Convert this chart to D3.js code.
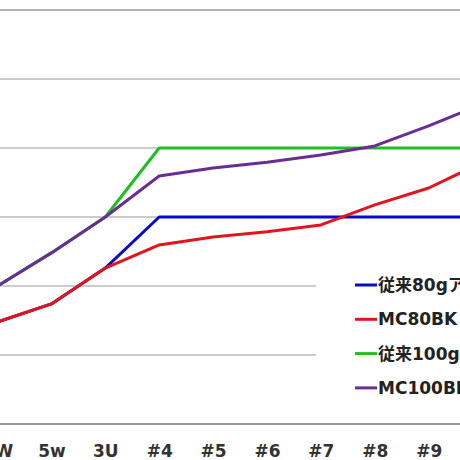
<!DOCTYPE html>
<html>
<head>
<meta charset="utf-8">
<script src="https://cdn.jsdelivr.net/npm/d3@7"></script>
<style>
  body { margin: 0; background: #fff; }
  svg { display: block; }
</style>
</head>
<body>
<div id="chart"></div>
<script>
// categories along the bottom (first and last are cut by the frame)
const categories = ["4W", "5w", "3U", "#4", "#5", "#6", "#7", "#8", "#9", "#10"];

// series values (grid step = 20)
const blue80 = [29.6, 34.8, 45.2, 60, 60, 60, 60, 60, 60, 60];
const mc80 = [29.6, 34.8, 45.2, 51.9, 54.2, 55.7, 57.7, 63.5, 68.4, 75.9];
const green100 = [40, 49.6, 60, 80, 80, 80, 80, 80, 80, 80];
const mc100 = [40, 49.6, 60, 71.9, 74.2, 75.9, 78.0, 80.6, 86.4, 92.8];

const seriesNames = ["従来80gアート", "MC80BK", "従来100gアート", "MC100BK"];
const yTicks = [20, 40, 60, 80, 100, 120];

const seriesList = [
  { name: seriesNames[0], values: blue80, color: "#0a0ac8" },
  { name: seriesNames[1], values: mc80, color: "#e2141c" },
  { name: seriesNames[2], values: green100, color: "#1fbf1f" },
  { name: seriesNames[3], values: mc100, color: "#6a2d92" }
];

const width = 460, height = 460;

const svg = d3.select("#chart").append("svg")
  .attr("width", width)
  .attr("height", height);

const x = d3.scalePoint()
  .domain(categories)
  .range([-2.5, 482.6]);

const y = d3.scaleLinear()
  .domain([0, 120])
  .range([424, 10]);

// gridlines
svg.append("g")
  .selectAll("line")
  .data(yTicks)
  .join("line")
  .attr("x1", 0)
  .attr("x2", width)
  .attr("y1", d => y(d))
  .attr("y2", d => y(d))
  .attr("stroke", d => d === 120 ? "#b4b4b4" : "#cccccc")
  .attr("stroke-width", 2);

// category axis
const xAxis = svg.append("g")
  .attr("transform", `translate(0,${y(0)})`)
  .call(d3.axisBottom(x).tickSize(0).tickPadding(0));
xAxis.select(".domain").remove();
xAxis.append("line")
  .attr("x1", 0).attr("x2", width)
  .attr("stroke", "#9a9a9a")
  .attr("stroke-width", 2);
xAxis.selectAll(".tick text")
  .attr("y", 33)
  .attr("dy", null)
  .attr("fill", "#333")
  .attr("font-family", "DejaVu Sans, Verdana, sans-serif")
  .attr("font-weight", "bold")
  .attr("font-size", 17);

// lines
const line = d3.line()
  .x((d, i) => x(categories[i]))
  .y(d => y(d));

svg.append("g")
  .selectAll("path")
  .data(seriesList)
  .join("path")
  .attr("d", d => line(d.values))
  .attr("fill", "none")
  .attr("stroke", d => d.color)
  .attr("stroke-width", 3)
  .attr("stroke-linejoin", "round");

// legend (white box over the grid, runs past the right edge)
const legend = svg.append("g");
legend.append("rect")
  .attr("x", 316).attr("y", 262)
  .attr("width", 160).attr("height", 150)
  .attr("fill", "#fff");

const rows = legend.selectAll("g.row")
  .data(seriesList)
  .join("g")
  .attr("class", "row")
  .attr("transform", (d, i) => `translate(355,${285 + i * 34.3})`);

rows.append("line")
  .attr("x1", 0).attr("x2", 22)
  .attr("stroke", d => d.color)
  .attr("stroke-width", 3);

rows.append("text")
  .attr("x", 23)
  .attr("dy", "0.36em")
  .attr("fill", "#222")
  .attr("font-family", "DejaVu Sans, 'Noto Sans CJK JP', sans-serif")
  .attr("font-weight", "bold")
  .attr("font-size", 17)
  .text(d => d.name);
</script>
</body>
</html>
